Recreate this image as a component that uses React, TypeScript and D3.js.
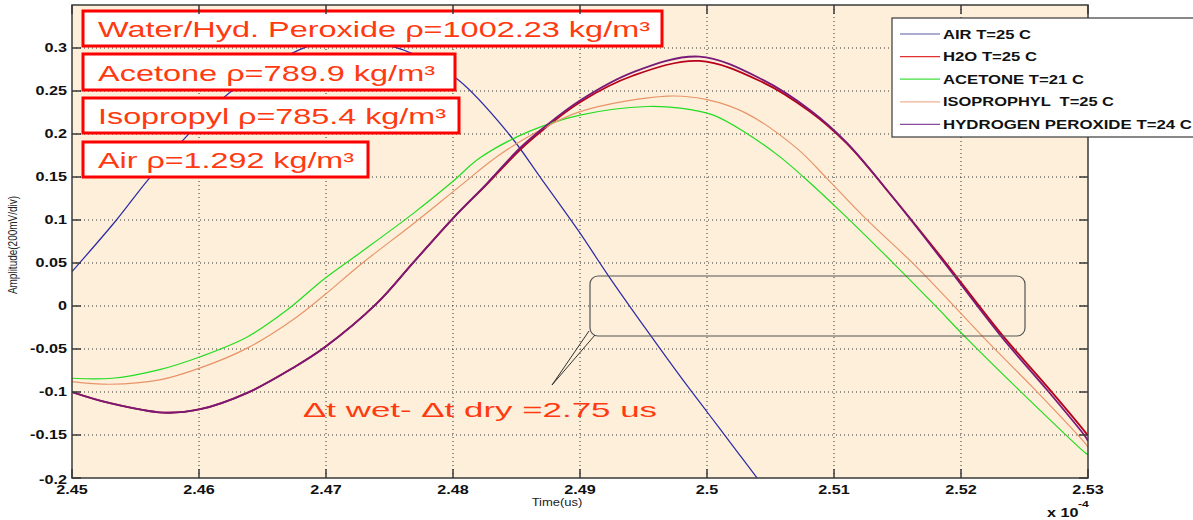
import React from 'react';
import * as d3 from 'd3';

// time axis in units of 1e-4 s, amplitude in V
const xTicks = [2.45, 2.46, 2.47, 2.48, 2.49, 2.5, 2.51, 2.52, 2.53];
const yTicks = [-0.2, -0.15, -0.1, -0.05, 0, 0.05, 0.1, 0.15, 0.2, 0.25, 0.3];

const air: [number, number][] = [
  [2.45, 0.04], [2.4535, 0.1], [2.456, 0.147], [2.459, 0.197], [2.4624, 0.248],
  [2.4684, 0.301], [2.4719, 0.312], [2.4754, 0.301], [2.4767, 0.294], [2.4804, 0.263],
  [2.4844, 0.2], [2.487, 0.147], [2.4899, 0.087], [2.4922, 0.036], [2.4953, -0.029],
  [2.4981, -0.086], [2.5001, -0.125], [2.502, -0.162], [2.5041, -0.203], [2.5048, -0.216],
];

const h2o: [number, number][] = [
  [2.45, -0.1], [2.453, -0.113], [2.4572, -0.124], [2.4601, -0.12], [2.4638, -0.101],
  [2.4674, -0.072], [2.4699, -0.048], [2.474, 0.003], [2.4769, 0.051], [2.48, 0.102],
  [2.4827, 0.142], [2.4853, 0.182], [2.4871, 0.205], [2.49, 0.237], [2.4942, 0.268],
  [2.4994, 0.285], [2.5044, 0.26], [2.5081, 0.226], [2.511, 0.189], [2.5146, 0.127],
  [2.5187, 0.052], [2.5232, -0.033], [2.5268, -0.094], [2.5298, -0.147], [2.53, -0.151],
];

const acetone: [number, number][] = [
  [2.45, -0.084], [2.4532, -0.084], [2.4569, -0.074], [2.4601, -0.059], [2.4638, -0.036],
  [2.4669, -0.005], [2.4699, 0.032], [2.4727, 0.062], [2.4769, 0.108], [2.48, 0.145],
  [2.4821, 0.172], [2.486, 0.203], [2.49, 0.222], [2.4953, 0.232], [2.4979, 0.23],
  [2.5005, 0.222], [2.5031, 0.201], [2.5057, 0.174], [2.5076, 0.15], [2.5108, 0.106],
  [2.515, 0.045], [2.5178, 0.003], [2.5206, -0.04], [2.5248, -0.101], [2.5298, -0.171],
  [2.53, -0.173],
];

const isopropyl: [number, number][] = [
  [2.45, -0.088], [2.453, -0.091], [2.4569, -0.086], [2.4601, -0.072], [2.4638, -0.049],
  [2.4674, -0.016], [2.4699, 0.013], [2.4727, 0.048], [2.4769, 0.096], [2.4806, 0.14],
  [2.4835, 0.174], [2.4863, 0.2], [2.49, 0.226], [2.4969, 0.244], [2.5, 0.24],
  [2.5031, 0.224], [2.5071, 0.183], [2.5094, 0.149], [2.5124, 0.103], [2.5164, 0.047],
  [2.5192, 0.004], [2.522, -0.04], [2.5262, -0.103], [2.5298, -0.16], [2.53, -0.164],
];

const peroxide: [number, number][] = [
  [2.45, -0.1], [2.453, -0.113], [2.4572, -0.124], [2.4601, -0.12], [2.4638, -0.101],
  [2.4674, -0.072], [2.4699, -0.048], [2.474, 0.003], [2.4769, 0.051], [2.48, 0.102],
  [2.4827, 0.143], [2.4853, 0.184], [2.4871, 0.207], [2.49, 0.239], [2.4942, 0.272],
  [2.4994, 0.29], [2.5044, 0.263], [2.5081, 0.228], [2.511, 0.19], [2.5146, 0.127],
  [2.5187, 0.05], [2.5232, -0.036], [2.5268, -0.098], [2.5298, -0.152], [2.53, -0.157],
];

const seriesNames = ['AIR T=25 C', 'H2O T=25 C', 'ACETONE T=21 C', 'ISOPROPHYL  T=25 C', 'HYDROGEN PEROXIDE T=24 C'];
const seriesData = [air, h2o, acetone, isopropyl, peroxide];
const seriesColors = ['#2a2aa8', '#b8001a', '#22dd22', '#e8946a', '#7a1a78'];
const legendColors = ['#5a5aa8', '#e03030', '#40e040', '#f0b090', '#8a4aa0'];
const legendWidths = [88, 94, 141, 171, 249];

const densityLabels = [
  'Water/Hyd. Peroxide ρ=1002.23 kg/m³',
  'Acetone ρ=789.9 kg/m³',
  'Isopropyl ρ=785.4 kg/m³',
  'Air ρ=1.292 kg/m³',
];
const densityBoxes = [
  { x0: 83, x1: 662, y0: 11, y1: 46, tw: 552 },
  { x0: 83, x1: 455, y0: 54, y1: 90, tw: 337 },
  { x0: 83, x1: 459, y0: 98, y1: 133, tw: 348 },
  { x0: 83, x1: 368, y0: 142, y1: 177, tw: 256 },
];
const deltaLabel = 'Δt wet- Δt dry =2.75 us';

const FONT = '"Liberation Sans", Arial, Helvetica, sans-serif';
const W = 1193;
const H = 520;
const left = 72, right = 1088, top = 5, bottom = 478;

const fmt = (v: number) => String(+v.toFixed(2));

export default function App() {
  const x = d3.scaleLinear().domain([2.45, 2.53]).range([left, right]);
  const y = d3.scaleLinear().domain([-0.2, 0.35]).range([bottom, top]);
  const line = d3.line<[number, number]>()
    .x(d => x(d[0]))
    .y(d => y(d[1]))
    .curve(d3.curveCatmullRom.alpha(0.5));

  const tickLen = 9;
  const sx = 1.35;

  return (
    <svg width={W} height={H} style={{ position: 'absolute', left: 0, top: 0, background: '#fff' }}
      fontFamily={FONT}>
      <defs>
        <clipPath id="plot">
          <rect x={left} y={top} width={right - left} height={bottom - top} />
        </clipPath>
      </defs>
      <rect x={left} y={top} width={right - left} height={bottom - top} fill="#fdefd9" />

      {/* grid */}
      <g stroke="#333" strokeWidth={1} strokeDasharray="1,3">
        {xTicks.slice(1, -1).map(t => (
          <line key={'gx' + t} x1={x(t)} x2={x(t)} y1={top} y2={bottom} />
        ))}
        {yTicks.slice(1).map(t => (
          <line key={'gy' + t} x1={left} x2={right} y1={y(t)} y2={y(t)} />
        ))}
      </g>

      {/* curves */}
      <g clipPath="url(#plot)" fill="none">
        {seriesData.map((s, i) => (
          <path key={i} d={line(s) || ''} stroke={seriesColors[i]}
            strokeWidth={i === 1 || i === 4 ? 1.8 : 1.2} />
        ))}
      </g>

      {/* callout */}
      <rect x={590} y={276} width={435} height={60} rx={8} fill="none" stroke="#555" strokeWidth={1.2} />
      <path d="M589,331 L552,385 L595,335" fill="none" stroke="#333" strokeWidth={1} />
      <text x={303} y={417} fontSize={21} fill="#ff3a10" textLength={354} lengthAdjust="spacingAndGlyphs">
        {deltaLabel}
      </text>

      {/* density boxes */}
      {densityLabels.map((lab, i) => {
        const b = densityBoxes[i];
        return (
          <g key={lab}>
            <rect x={b.x0} y={b.y0} width={b.x1 - b.x0} height={b.y1 - b.y0}
              fill="#fff" stroke="#ff0000" strokeWidth={3} />
            <text x={98} y={b.y1 - 9} fontSize={22} fill="#ff3a10"
              textLength={b.tw} lengthAdjust="spacingAndGlyphs">{lab}</text>
          </g>
        );
      })}

      {/* frame + ticks */}
      <rect x={left} y={top} width={right - left} height={bottom - top} fill="none" stroke="#3a3a3a" strokeWidth={1.5} />
      <g stroke="#3a3a3a" strokeWidth={1.5}>
        {xTicks.map(t => (
          <g key={'tx' + t}>
            <line x1={x(t)} x2={x(t)} y1={bottom} y2={bottom - tickLen} />
            <line x1={x(t)} x2={x(t)} y1={top} y2={top + tickLen} />
          </g>
        ))}
        {yTicks.map(t => (
          <g key={'ty' + t}>
            <line x1={left} x2={left + tickLen} y1={y(t)} y2={y(t)} />
            <line x1={right} x2={right - tickLen} y1={y(t)} y2={y(t)} />
          </g>
        ))}
      </g>

      {/* tick labels */}
      <g fontSize={12} fontWeight="bold" fill="#111">
        {xTicks.map(t => (
          <text key={'lx' + t} transform={`translate(${x(t)},${494}) scale(${sx},1)`} textAnchor="middle">
            {fmt(t)}
          </text>
        ))}
        {yTicks.map(t => (
          <text key={'ly' + t} transform={`translate(${67},${y(t) + (t === -0.2 ? 6 : 4)}) scale(${sx},1)`}
            textAnchor="end">
            {fmt(t)}
          </text>
        ))}
        <text transform={`translate(1047,517) scale(${sx},1)`} fontSize={12}>x 10</text>
        <text transform={`translate(1078,507) scale(${sx},1)`} fontSize={9}>-4</text>
      </g>

      <text transform={`translate(557,506) scale(1.3,1)`} textAnchor="middle" fontSize={10} fill="#222">Time(us)</text>
      <text transform={`translate(17,245) rotate(-90) scale(1,1.3)`} textAnchor="middle" fontSize={10} fill="#222">
        Amplitude(200mV/div)
      </text>

      {/* legend */}
      <rect x={892} y={18} width={320} height={119} fill="#fff" stroke="#3a3a3a" strokeWidth={1.2} />
      {seriesNames.map((n, i) => {
        const ly = 34 + i * 22.6;
        return (
          <g key={n}>
            <line x1={900} x2={940} y1={ly} y2={ly} stroke={legendColors[i]} strokeWidth={1.2} />
            <text x={943} y={ly + 4.5} fontSize={12} fontWeight="bold" fill="#111"
              style={{ whiteSpace: 'pre' }}
              textLength={legendWidths[i]} lengthAdjust="spacingAndGlyphs">{n}</text>
          </g>
        );
      })}
    </svg>
  );
}
